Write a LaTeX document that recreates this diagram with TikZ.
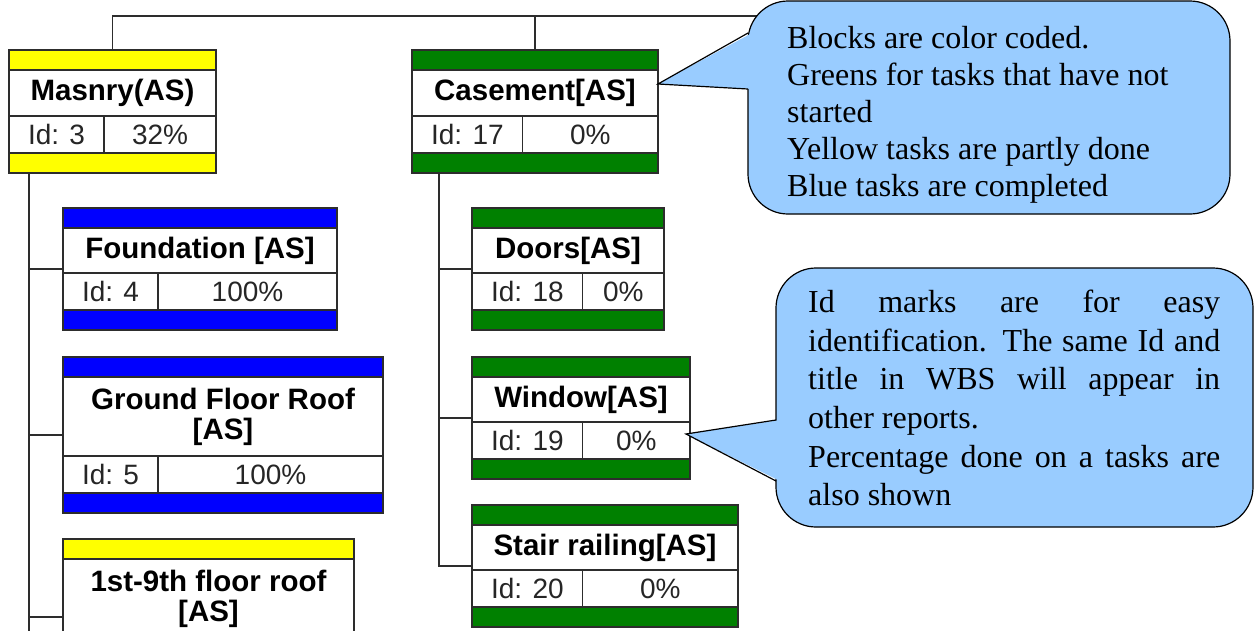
\documentclass[tikz,border=0pt]{standalone}
\usepackage{fontspec}
\setmainfont{Liberation Serif}
\setsansfont{Liberation Sans}
\usetikzlibrary{calc,positioning}

\definecolor{wbsyellow}{RGB}{255,255,0}
\definecolor{wbsblue}{RGB}{0,0,255}
\definecolor{wbsgreen}{RGB}{0,128,0}
\definecolor{notefill}{RGB}{153,204,255}
\definecolor{wbsline}{RGB}{45,45,45}

\tikzset{
  taskframe/.style={draw=wbsline, line width=1.2pt, inner sep=0pt, outer sep=0pt},
  bar/.style={taskframe, minimum height=20pt},
  titlecell/.style={taskframe, fill=white, align=center,
    font=\sffamily\bfseries\fontsize{29.5}{30}\selectfont},
  rowcell/.style={taskframe, fill=white, minimum height=37pt},
  idcell/.style={inner xsep=19pt, inner ysep=0pt, outer sep=0pt, minimum height=37pt,
    text=black!85, font=\sffamily\fontsize{28}{30}\selectfont},
  link/.style={draw=wbsline, line width=1.2pt},
  note/.style={draw=black, line width=1.2pt, fill=notefill, rounded corners=40pt},
  notetext/.style={anchor=north west, inner sep=0pt}
}

% one WBS block: name, top left, width, title height, colour, title, id, percent
\newcommand{\wbstask}[8]{%
  \node[taskframe, anchor=north west, minimum width=#3, minimum height=#4+77] (#1) at (#2) {};
  \node[bar, fill=#5, minimum width=#3, anchor=north] (#1-top) at (#1.north) {};
  \node[titlecell, minimum width=#3, minimum height=#4, below=0pt of #1-top] (#1-title) {#6};
  \node[rowcell, minimum width=#3, below=0pt of #1-title] (#1-row) {};
  \node[idcell, anchor=west] (#1-id) at (#1-row.west) {#7};
  \draw[link] (#1-id.north east) -- (#1-id.south east);
  \node[idcell, inner xsep=0pt] (#1-pct) at ($(#1-id.east)!.5!(#1-row.east)$) {#8};
  \node[bar, fill=#5, minimum width=#3, below=0pt of #1-row] (#1-bot) {};
}

\begin{document}
\begin{tikzpicture}[x=1pt,y=-1pt]
  \clip (0,0) rectangle (1256,630);

  % masonry branch
  \wbstask{masnry}{9,50}{207}{46}{wbsyellow}{Masnry(AS)}{Id: 3}{32\%}
  \wbstask{found}{63,208}{274}{45}{wbsblue}{Foundation [AS]}{Id: 4}{100\%}
  \wbstask{gfr}{63,357}{320}{79}{wbsblue}{Ground Floor Roof\\{[AS]}}{Id: 5}{100\%}
  \wbstask{floors}{63,539}{291}{79}{wbsyellow}{1st-9th floor roof\\{[AS]}}{}{}

  % casement branch
  \wbstask{casement}{412,50}{246}{46}{wbsgreen}{Casement[AS]}{Id: 17}{0\%}
  \wbstask{doors}{472,208}{192}{45}{wbsgreen}{Doors[AS]}{Id: 18}{0\%}
  \wbstask{window}{472,357}{218}{45}{wbsgreen}{Window[AS]}{Id: 19}{0\%}
  \wbstask{stair}{472,505}{266}{45}{wbsgreen}{Stair railing[AS]}{Id: 20}{0\%}

  % connectors
  \coordinate (root) at (770,16);
  \draw[link] (masnry-top.north) |- (root);
  \draw[link] (casement-top.north) -- (casement-top.north |- root);

  \coordinate (mtrunk) at ($(masnry-bot.south west)+(20,0)$);
  \coordinate (mend) at (mtrunk |- 0,640);
  \draw[link] (mtrunk) -- (mend);
  \foreach \t in {found,gfr,floors}
    \draw[link] (mtrunk |- \t.west) -- (\t.west);

  \coordinate (ctrunk) at ($(casement-bot.south west)+(27,0)$);
  \draw[link] (ctrunk) |- (stair.west);
  \foreach \t in {doors,window}
    \draw[link] (ctrunk |- \t.west) -- (\t.west);

  % note on colours
  \draw[note] (748,1) rectangle (1230,214);
  \fill[notefill] (752,33) -- (658,84) -- (752,89) -- cycle;
  \draw[line width=1.2pt] (748,33) -- (658,84) -- (748,89);
  \node[notetext, align=left, font=\fontsize{32}{37}\selectfont] (legend) at (787,26)
    {Blocks are color coded.\\Greens for tasks that have not\\started\\Yellow tasks are partly done\\Blue tasks are completed};

  % note on ids
  \draw[note] (776,268) rectangle (1253,527);
  \fill[notefill] (780,420) -- (686,434) -- (780,481) -- cycle;
  \draw[line width=1.2pt] (776,420) -- (686,434) -- (776,481);
  \node[notetext, text width=412pt, align=justify, font=\fontsize{32}{38.6}\selectfont] (idnote) at (808,290)
    {\tolerance=10000\hbadness=10000 Id marks are for easy\linebreak identification.  The same Id and\linebreak title in WBS will appear in\linebreak other reports.\\Percentage done on a tasks are\linebreak also shown};
\end{tikzpicture}
\end{document}
